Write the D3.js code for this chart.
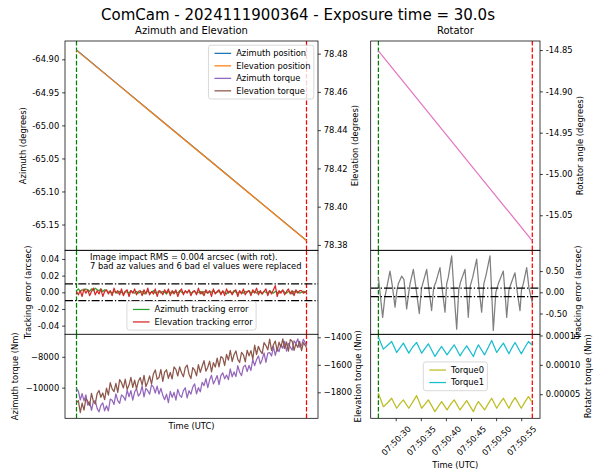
<!DOCTYPE html>
<html><head><meta charset="utf-8">
<script src="https://cdn.jsdelivr.net/npm/d3@7"></script>
<style>
body{margin:0;background:#fff;}
svg text{font-family:"DejaVu Sans",sans-serif;fill:#000;}
</style></head><body>
<svg id="c" width="597" height="475"></svg>
<script>
// ---------------- data ----------------
const startTime = "2024-11-19T07:50:26.55Z";
const exposureStart = 0;
const exposureEnd = 30.66;

const posTimes = [0, 5, 10, 15, 20, 25, 30.66];
const azPosition = [-64.886, -64.933, -64.980, -65.027, -65.074, -65.121, -65.174];
const elPosition = [78.4817, 78.4655, 78.4492, 78.4330, 78.4168, 78.4006, 78.3822];
const rotAngle = [-14.851, -14.8885, -14.926, -14.9635, -15.001, -15.0385, -15.081];

const sampleTimes = [0,0.25,0.5,0.75,1,1.25,1.5,1.75,2,2.25,2.5,2.75,3,3.25,3.5,3.75,4,4.25,4.5,4.75,
  5,5.25,5.5,5.75,6,6.25,6.5,6.75,7,7.25,7.5,7.75,8,8.25,8.5,8.75,9,9.25,9.5,9.75,
  10,10.25,10.5,10.75,11,11.25,11.5,11.75,12,12.25,12.5,12.75,13,13.25,13.5,13.75,14,14.25,14.5,14.75,
  15,15.25,15.5,15.75,16,16.25,16.5,16.75,17,17.25,17.5,17.75,18,18.25,18.5,18.75,19,19.25,19.5,19.75,
  20,20.25,20.5,20.75,21,21.25,21.5,21.75,22,22.25,22.5,22.75,23,23.25,23.5,23.75,24,24.25,24.5,24.75,
  25,25.25,25.5,25.75,26,26.25,26.5,26.75,27,27.25,27.5,27.75,28,28.25,28.5,28.75,29,29.25,29.5,29.75,
  30,30.25,30.66];
const azTorque = [-10050,-10220,-10800,-10390,-10860,-10470,-11140,-10930,-11470,-10915,
  -10840,-11345,-11570,-11155,-10990,-11505,-11180,-11515,-10740,-10820,
  -11090,-10400,-10840,-11020,-10470,-10580,-10820,-10155,-10590,-10195,
  -10810,-10285,-10060,-10545,-10370,-9895,-10600,-10050,-10200,-10420,
  -9820,-9955,-10350,-9900,-10420,-10045,-10490,-10780,-10420,-10980,
  -10250,-10635,-10310,-10805,-10110,-10480,-10630,-10195,-10010,-10665,
  -10200,-10425,-9960,-9760,-10400,-10005,-10270,-9655,-9870,-9420,
  -10000,-9495,-9200,-9760,-9510,-9220,-9800,-9225,-9040,-9430,
  -9180,-9480,-8790,-9300,-8980,-9285,-8580,-9005,-9220,-8655,
  -8540,-8960,-8560,-8890,-8170,-8570,-8180,-7945,-8460,-8170,
  -7750,-8360,-7760,-7730,-7950,-7335,-7910,-7445,-7670,-7190,
  -7450,-6995,-7630,-7135,-7370,-7570,-6960,-7135,-6840,-7375,
  -7240,-6860,-7250];
const elTorque = [-1875,-1861,-1947,-1879,-1930,-1845,-1865,-1896,-1807,-1866,
  -1885,-1809,-1787,-1836,-1805,-1853,-1770,-1820,-1730,-1775,
  -1795,-1735,-1800,-1708,-1730,-1768,-1705,-1779,-1747,-1691,
  -1764,-1712,-1775,-1719,-1693,-1747,-1676,-1758,-1725,-1680,
  -1740,-1666,-1637,-1705,-1692,-1634,-1721,-1654,-1636,-1698,
  -1655,-1703,-1615,-1633,-1681,-1615,-1658,-1687,-1620,-1602,
  -1668,-1700,-1621,-1638,-1680,-1598,-1655,-1610,-1570,-1646,
  -1617,-1574,-1651,-1584,-1616,-1551,-1615,-1540,-1550,-1605,
  -1524,-1565,-1495,-1576,-1527,-1499,-1560,-1583,-1510,-1527,
  -1578,-1494,-1535,-1497,-1558,-1457,-1525,-1465,-1499,-1519,
  -1438,-1460,-1491,-1413,-1495,-1454,-1427,-1501,-1435,-1473,
  -1411,-1480,-1434,-1500,-1416,-1428,-1495,-1447,-1473,-1430,
  -1497,-1438,-1474];
const azTrackErr = [0.002,0.004,0.001,0.003,0.002,0.004,0.003,0.001,0.004,0.002,0.005,0.003,0.002,0.004,0.001,0.003,0.002,0.000,0.001,-0.001,
  0.001,0.000,-0.001,0.001,0.000,-0.002,0.001,0.000,-0.001,0.002,0.000,-0.001,0.001,-0.001,0.000,0.001,-0.002,0.000,0.001,-0.001,
  0.000,0.002,-0.001,0.000,0.001,-0.001,0.001,0.000,-0.002,0.001,0.000,-0.001,0.001,0.000,-0.001,0.002,0.000,-0.001,0.001,0.000,
  0.002,-0.001,0.000,0.001,-0.001,0.000,0.001,-0.002,0.001,0.000,-0.001,0.001,0.000,0.002,-0.001,0.000,0.001,-0.001,0.001,0.000,
  -0.002,0.001,0.000,-0.001,0.002,0.000,-0.001,0.001,0.000,-0.001,0.001,0.000,0.002,-0.001,0.000,0.001,-0.001,0.001,0.000,-0.002,
  0.001,0.000,-0.001,0.002,0.000,-0.001,0.001,0.000,-0.001,0.001,0.002,0.000,-0.001,0.001,0.000,-0.002,0.001,0.000,0.001,-0.001,
  0.000,0.001,0.000];
const elTrackErr = [0.001,-0.003,0.002,-0.005,0.004,-0.001,0.003,-0.004,0.001,0.005,-0.003,0.002,-0.002,0.004,-0.005,0.001,0.003,-0.002,0.002,-0.004,
  0.005,-0.001,0.002,-0.003,0.004,-0.004,0.001,0.003,-0.005,0.002,-0.001,0.004,-0.003,0.001,0.002,-0.004,0.003,-0.002,0.005,-0.003,
  0.001,-0.002,0.004,-0.005,0.002,0.001,-0.003,0.003,-0.001,0.004,-0.004,0.002,-0.002,0.003,-0.005,0.001,0.004,-0.003,0.002,-0.001,
  0.003,-0.004,0.001,0.002,-0.003,0.005,-0.002,0.001,-0.004,0.003,-0.001,0.002,-0.005,0.004,-0.002,0.001,0.003,-0.003,0.002,-0.004,
  0.004,-0.001,0.002,-0.003,0.001,0.003,-0.005,0.002,-0.002,0.004,-0.003,0.001,0.002,-0.004,0.003,-0.001,0.005,-0.003,0.002,-0.002,
  0.001,0.004,-0.004,0.002,-0.002,0.003,0.008,-0.005,0.002,-0.001,0.003,-0.003,0.001,0.004,-0.002,0.002,-0.004,0.003,-0.001,0.002,
  0.002,-0.001,0.001];

const rotTrackTimes = [0,0.85,1.3,1.65,2.31,2.78,3.31,3.7,3.97,4.63,5.1,5.63,6.0,6.3,6.96,7.49,8.15,8.6,8.95,9.62,10.08,10.6,11.0,11.47,12.27,12.73,13.27,13.6,13.92,14.6,15.06,15.6,16.0,16.39,17.25,17.59,17.91,18.3,18.78,19.58,20.04,20.57,21.0,21.43,22.23,22.57,22.89,23.4,23.88,24.88,25.22,25.56,26.0,26.41,27.21,27.67,28.21,28.5,28.86,29.54,30.0,30.66];
const rotTrackErr = [0.35,-0.59,-0.1,0.1,0.5,0.15,-0.35,0.05,0.2,0.38,0.3,-0.39,-0.05,0.2,0.54,0.1,-0.5,0.1,0.25,0.54,0.05,-0.43,0.1,0.25,0.58,0.05,-0.47,0.2,0.35,0.86,0.0,-0.87,0.05,0.25,0.54,0.0,-0.59,0.15,0.35,0.78,0.1,-0.47,0.2,0.4,0.86,0.0,-0.9,0.0,0.2,0.5,0.0,-0.59,0.05,0.2,0.46,0.0,-0.43,0.05,0.2,0.58,0.1,-0.25];

const rotTorqueTimes = [0,1.0,1.8,2.64,3.64,4.3,4.97,6.06,6.8,7.62,8.62,9.3,9.95,11.27,11.9,12.6,13.67,14.4,15.1,16.26,16.9,17.59,18.92,19.4,19.92,21.15,21.9,22.57,23.57,24.2,24.9,26.0,26.6,27.23,28.46,29.2,29.89,30.55];
const torque0 = [5.17e-5,2.88e-5,3.5e-5,4.31e-5,2.61e-5,3.4e-5,4.03e-5,2.61e-5,3.6e-5,4.76e-5,2.61e-5,3.3e-5,4.03e-5,2.03e-5,2.9e-5,3.74e-5,2.32e-5,3.3e-5,4.03e-5,2.32e-5,3.1e-5,3.91e-5,2.03e-5,3.0e-5,3.74e-5,2.32e-5,3.4e-5,4.31e-5,2.61e-5,3.5e-5,4.31e-5,2.61e-5,3.6e-5,4.42e-5,2.61e-5,3.7e-5,4.59e-5,3.74e-5];
const torque1 = [1.4721e-4,1.2674e-4,1.33e-4,1.3982e-4,1.2104e-4,1.29e-4,1.3698e-4,1.1991e-4,1.30e-4,1.3811e-4,1.1991e-4,1.28e-4,1.3584e-4,1.1421e-4,1.23e-4,1.3128e-4,1.1706e-4,1.26e-4,1.3413e-4,1.1536e-4,1.24e-4,1.3242e-4,1.1421e-4,1.25e-4,1.3413e-4,1.1706e-4,1.30e-4,1.415e-4,1.2104e-4,1.29e-4,1.3698e-4,1.1877e-4,1.29e-4,1.3811e-4,1.1877e-4,1.30e-4,1.3982e-4,1.3413e-4];

const azTicks = [-64.90,-64.95,-65.00,-65.05,-65.10,-65.15];
const elTicks = [78.38,78.40,78.42,78.44,78.46,78.48];
const trackTicks = [0.04,0.02,0.00,-0.02,-0.04];
const azTorqueTicks = [-8000,-10000];
const elTorqueTicks = [-1400,-1600,-1800];
const rotAngleTicks = [-14.85,-14.90,-14.95,-15.00,-15.05];
const rotTrackTicks = [0.5,0,-0.5];
const rotTorqueTicks = [0.00015,0.00010,0.00005];
const timeTickSeconds = [3.45,8.45,13.45,18.45,23.45,28.45];

const trackLimitL = 0.01;
const trackLimitR = 0.1;

// ---------------- layout ----------------
const svg = d3.select("#c");
const FS = 8.33;
const LP = {x0:65, x1:318}, RP = {x0:370.7, x1:540};
const TOP = [41,250.3], MID = [250.3,334.3], BOT = [334.3,418.3];
const COL = {blue:"#1f77b4", orange:"#ff7f0e", green:"#2ca02c", red:"#d62728", purple:"#9467bd", brown:"#8c564b", pink:"#e377c2", gray:"#7f7f7f", olive:"#bcbd22", cyan:"#17becf"};

const t0 = new Date(startTime);
const toDate = s => new Date(t0.getTime() + s*1000);
const mrg = 0.05*(exposureEnd - exposureStart);
const xL = d3.scaleUtc().domain([toDate(exposureStart-mrg), toDate(exposureEnd+mrg)]).range([LP.x0, LP.x1]);
const xR = d3.scaleUtc().domain([toDate(exposureStart-mrg), toDate(exposureEnd+mrg)]).range([RP.x0, RP.x1]);

const yAz = d3.scaleLinear().domain([-65.189,-64.8723]).range([TOP[1],TOP[0]]);
const yEl = d3.scaleLinear().domain([78.3772,78.4866]).range([TOP[1],TOP[0]]);
const yTrk = d3.scaleLinear().domain([-0.0504,0.0504]).range([MID[1],MID[0]]);
const yAzT = d3.scaleLinear().domain([-11990,-6540]).range([BOT[1],BOT[0]]);
const yElT = d3.scaleLinear().domain([-1989,-1378]).range([BOT[1],BOT[0]]);
const yRot = d3.scaleLinear().domain([-15.0924,-14.839]).range([TOP[1],TOP[0]]);
const yRTrk = d3.scaleLinear().domain([-0.99,0.99]).range([MID[1],MID[0]]);
const yRTq = d3.scaleLinear().domain([0.000009,0.000152]).range([BOT[1],BOT[0]]);

const defs = svg.append("defs");
let clipN = 0;
function clip(p, r){
  const id = "clip"+(clipN++);
  defs.append("clipPath").attr("id",id).append("rect")
    .attr("x",p.x0).attr("y",r[0]).attr("width",p.x1-p.x0).attr("height",r[1]-r[0]);
  return "url(#"+id+")";
}
function line(cp, times, vals, x, y, color, w){
  const pts = times.map((t,i)=>[toDate(t), vals[i]]);
  svg.append("path").attr("clip-path",cp).attr("fill","none").attr("stroke",color)
    .attr("stroke-width",w||1.25).attr("stroke-linejoin","round")
    .attr("d", d3.line().x(d=>x(d[0])).y(d=>y(d[1]))(pts));
}
function hline(cp, p, y, v){
  svg.append("line").attr("clip-path",cp).attr("x1",p.x0).attr("x2",p.x1)
    .attr("y1",y(v)).attr("y2",y(v)).attr("stroke","#000").attr("stroke-width",1.3)
    .attr("stroke-dasharray","8,2,1.3,2");
}
function vlines(cp, x, r){
  [[exposureStart,"#008000"],[exposureEnd,"#ff0000"]].forEach(([s,c])=>{
    svg.append("line").attr("clip-path",cp).attr("x1",x(toDate(s))).attr("x2",x(toDate(s)))
      .attr("y1",r[0]).attr("y2",r[1]).attr("stroke",c).attr("stroke-width",1.25)
      .attr("stroke-dasharray","4.6,2");
  });
}
function frame(p, r){
  svg.append("rect").attr("x",p.x0).attr("y",r[0]).attr("width",p.x1-p.x0).attr("height",r[1]-r[0])
    .attr("fill","none").attr("stroke","#000").attr("stroke-width",0.75);
}
function styleAxis(g){
  g.select(".domain").remove();
  g.selectAll("line").attr("stroke","#000").attr("stroke-width",0.75);
  g.selectAll("text").attr("font-family","DejaVu Sans").attr("font-size",FS).attr("fill","#000");
  g.attr("font-family",null).attr("font-size",null);
}
function yAxisLeft(p, y, ticks, fmt){
  const g = svg.append("g").attr("transform","translate("+p.x0+",0)")
    .call(d3.axisLeft(y).tickValues(ticks).tickFormat(fmt).tickSize(2.9).tickPadding(2.9));
  styleAxis(g);
}
function yAxisRight(p, y, ticks, fmt){
  const g = svg.append("g").attr("transform","translate("+p.x1+",0)")
    .call(d3.axisRight(y).tickValues(ticks).tickFormat(fmt).tickSize(2.9).tickPadding(2.9));
  styleAxis(g);
}
function vlabel(txt, cx, cy){
  svg.append("text").attr("transform","translate("+cx+","+cy+") rotate(-90)")
    .attr("text-anchor","middle").attr("dy","0.35em").attr("font-size",FS).text(txt);
}
function hlabel(txt, cx, baseline, fs){
  svg.append("text").attr("x",cx).attr("y",baseline).attr("text-anchor","middle")
    .attr("font-size",fs||FS).text(txt);
}
function legend(items, pos){
  const g = svg.append("g");
  const rect = g.append("rect");
  const texts = items.map(it => g.append("text").attr("font-size",FS).attr("dy","0.35em").text(it[0]));
  const tw = d3.max(texts, t => t.node().getComputedTextLength());
  const w = tw + 31, n = items.length, h = 6.6 + n*9.7 + (n-1)*2.8;
  let x, y;
  if (pos.right !== undefined){ x = pos.right - w; y = pos.top; }
  else if (pos.bottom !== undefined){ x = pos.cx - w/2; y = pos.bottom - h; }
  else { x = pos.cx - w/2; y = pos.cy - h/2; }
  rect.attr("x",x).attr("y",y).attr("width",w).attr("height",h).attr("rx",2.5)
    .attr("fill","#fff").attr("fill-opacity",0.8).attr("stroke","#cccccc").attr("stroke-width",0.75);
  items.forEach((it,i)=>{
    const cy = y + 3.3 + 4.85 + i*12.5;
    g.append("line").attr("x1",x+6).attr("x2",x+22.7).attr("y1",cy).attr("y2",cy)
      .attr("stroke",it[1]).attr("stroke-width",1.25);
    texts[i].attr("x",x+27.7).attr("y",cy);
  });
}

const f2 = d => d.toFixed(2);
const fInt = d3.format("d");

// ---------------- left column ----------------
let cp = clip(LP, TOP);
vlines(cp, xL, TOP);
line(cp, posTimes, azPosition, xL, yAz, COL.blue);
line(cp, posTimes, elPosition, xL, yEl, COL.orange);
frame(LP, TOP);
yAxisLeft(LP, yAz, azTicks, f2);
yAxisRight(LP, yEl, elTicks, f2);

cp = clip(LP, MID);
vlines(cp, xL, MID);
line(cp, sampleTimes, azTrackErr, xL, yTrk, COL.green);
line(cp, sampleTimes, elTrackErr, xL, yTrk, COL.red);
hline(cp, LP, yTrk, trackLimitL);
hline(cp, LP, yTrk, -trackLimitL);
frame(LP, MID);
yAxisLeft(LP, yTrk, trackTicks, f2);
svg.append("text").attr("x",90).attr("y",259.5).attr("font-size",FS).text("Image impact RMS = 0.004 arcsec (with rot).");
svg.append("text").attr("x",90).attr("y",269).attr("font-size",FS).text("7 bad az values and 6 bad el values were replaced");
legend([["Azimuth tracking error",COL.green],["Elevation tracking error",COL.red]], {cx:(LP.x0+LP.x1)/2, bottom:MID[1]-4.2});

cp = clip(LP, BOT);
svg.append("rect").attr("x",LP.x0).attr("y",BOT[0]).attr("width",LP.x1-LP.x0).attr("height",BOT[1]-BOT[0]).attr("fill","#fff");
vlines(cp, xL, BOT);
line(cp, sampleTimes, azTorque, xL, yAzT, COL.purple);
line(cp, sampleTimes, elTorque, xL, yElT, COL.brown);
frame(LP, BOT);
yAxisLeft(LP, yAzT, azTorqueTicks, fInt);
yAxisRight(LP, yElT, elTorqueTicks, fInt);

legend([["Azimuth position",COL.blue],["Elevation position",COL.orange],["Azimuth torque",COL.purple],["Elevation torque",COL.brown]], {right:LP.x1-4.2, top:TOP[0]+4.2});

vlabel("Azimuth (degrees)", 22.7, (TOP[0]+TOP[1])/2);
vlabel("Elevation (degrees)", 355, (TOP[0]+TOP[1])/2);
vlabel("Tracking error (arcsec)", 28.3, (MID[0]+MID[1])/2);
vlabel("Azimuth torque (Nm)", 15, (BOT[0]+BOT[1])/2);
vlabel("Elevation torque (Nm)", 358.3, (BOT[0]+BOT[1])/2);
hlabel("Time (UTC)", (LP.x0+LP.x1)/2, 428.7);
hlabel("Azimuth and Elevation", (LP.x0+LP.x1)/2, 34, 10);

// ---------------- right column ----------------
cp = clip(RP, TOP);
vlines(cp, xR, TOP);
line(cp, posTimes, rotAngle, xR, yRot, COL.pink);
frame(RP, TOP);
yAxisRight(RP, yRot, rotAngleTicks, f2);

cp = clip(RP, MID);
vlines(cp, xR, MID);
line(cp, rotTrackTimes, rotTrackErr, xR, yRTrk, COL.gray);
hline(cp, RP, yRTrk, trackLimitR);
hline(cp, RP, yRTrk, -trackLimitR);
frame(RP, MID);
yAxisRight(RP, yRTrk, rotTrackTicks, f2);

cp = clip(RP, BOT);
vlines(cp, xR, BOT);
line(cp, rotTorqueTimes, torque0, xR, yRTq, COL.olive);
line(cp, rotTorqueTimes, torque1, xR, yRTq, COL.cyan);
frame(RP, BOT);
yAxisRight(RP, yRTq, rotTorqueTicks, d => d.toFixed(5));
legend([["Torque0",COL.olive],["Torque1",COL.cyan]], {cx:(RP.x0+RP.x1)/2, cy:(BOT[0]+BOT[1])/2});

// time axis
const gx = svg.append("g").attr("transform","translate(0,"+BOT[1]+")")
  .call(d3.axisBottom(xR).tickValues(timeTickSeconds.map(toDate)).tickFormat(d3.utcFormat("%H:%M:%S")).tickSize(2.9).tickPadding(2.9));
styleAxis(gx);
gx.selectAll(".tick text").each(function(){
  const t = d3.select(this);
  const L = this.getComputedTextLength();
  const bh = (L + 9.7)*0.7071;
  t.attr("y",null).attr("dy","0.35em").attr("text-anchor","middle")
   .attr("transform","translate(0,"+(5.8 + bh/2)+") rotate(-45)");
});

vlabel("Rotator angle (degrees)", 580, (TOP[0]+TOP[1])/2);
vlabel("Tracking error (arcsec)", 578.3, (MID[0]+MID[1])/2);
vlabel("Rotator torque (Nm)", 587.7, (BOT[0]+BOT[1])/2);
hlabel("Time (UTC)", (RP.x0+RP.x1)/2, 468);
hlabel("Rotator", (RP.x0+RP.x1)/2, 34, 10);

hlabel("ComCam - 2024111900364 - Exposure time = 30.0s", 298, 19.5, 15);
</script>
</body></html>
